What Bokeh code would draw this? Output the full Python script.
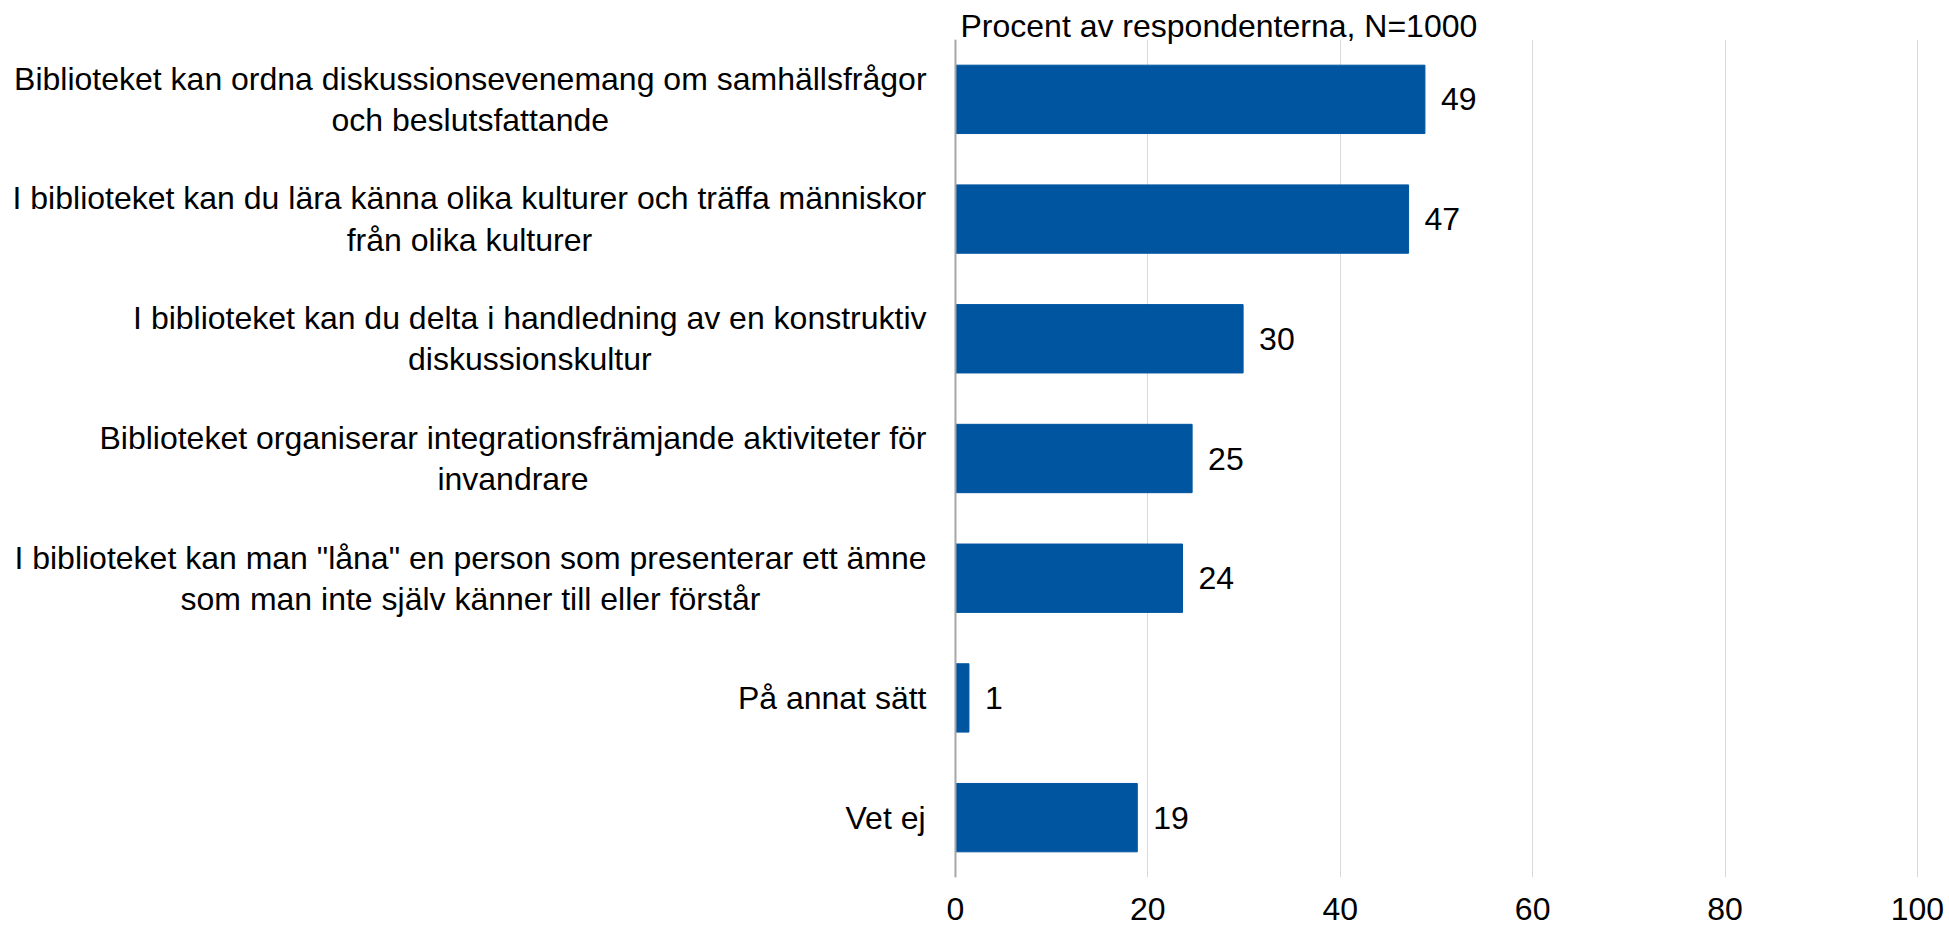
from bokeh.plotting import figure
from bokeh.models import (ColumnDataSource, FactorRange, Range1d, FixedTicker, Span)
from bokeh.core.properties import value
from bokeh.embed import file_html
from bokeh.resources import INLINE

# ---------------- data ----------------
categories = [
    "Biblioteket kan ordna diskussionsevenemang om samhällsfrågor\noch beslutsfattande",
    "I biblioteket kan du lära känna olika kulturer och träffa människor\nfrån olika kulturer",
    "I biblioteket kan du delta i handledning av en konstruktiv\ndiskussionskultur",
    "Biblioteket organiserar integrationsfrämjande aktiviteter för\ninvandrare",
    "I biblioteket kan man \"låna\" en person som presenterar ett ämne\nsom man inte själv känner till eller förstår",
    "På annat sätt",
    "Vet ej",
]
values = [48.8, 47.1, 29.9, 24.6, 23.6, 1.4, 18.9]
value_labels = ["49", "47", "30", "25", "24", "1", "19"]
x_ticks = [0, 20, 40, 60, 80, 100]
title_text = "Procent av respondenterna, N=1000"

# ---------------- styling ----------------
FONT = "Liberation Sans"
LABEL_SIZE = 32
TICK_SIZE = 32
BAR_COLOR = "#0055A0"

# Arial / Liberation Sans advance widths (per 1000 em) for estimating block widths
_W = {' ': 278, '"': 355, 'B': 667, 'I': 278, 'P': 667, 'V': 667, 'N': 722,
      'a': 556, 'b': 556, 'c': 500, 'd': 556, 'e': 556, 'f': 278, 'g': 556,
      'h': 556, 'i': 222, 'j': 222, 'k': 500, 'l': 222, 'm': 833, 'n': 556,
      'o': 556, 'p': 556, 'q': 556, 'r': 333, 's': 500, 't': 278, 'u': 556,
      'v': 500, 'w': 722, 'x': 500, 'y': 500, 'z': 500, 'å': 556, 'ä': 556,
      'ö': 556}


def block_width(txt, size):
    return max(sum(_W.get(ch, 556) for ch in line) for line in txt.split("\n")) * size / 1000.0


GAP = 29
cat_offsets = [-(GAP + block_width(c, LABEL_SIZE) / 2.0) for c in categories]

source = ColumnDataSource(dict(cat=categories, val=values, lab=value_labels,
                               zero=[0] * len(values), off=cat_offsets))

p = figure(width=1949, height=930,
           y_range=FactorRange(factors=list(reversed(categories)), range_padding=0),
           x_range=Range1d(-99.27, 103.33),
           output_backend="svg", toolbar_location=None,
           y_axis_location=None, min_border_left=0, min_border_right=0,
           min_border_top=39, min_border_bottom=53)
p.outline_line_color = None
p.background_fill_color = "white"
p.border_fill_color = "white"

# title
p.title.text = title_text
p.title.align = "left"
p.title.offset = 960
p.title.standoff = -8
p.title.text_font = FONT
p.title.text_font_size = f"{LABEL_SIZE}px"
p.title.text_font_style = "normal"
p.title.text_color = "black"

# grid
p.xgrid.ticker = FixedTicker(ticks=x_ticks)
p.xgrid.grid_line_color = "#d9d9d9"
p.xgrid.grid_line_width = 1
p.ygrid.grid_line_color = None

# bottom axis
ax = p.xaxis[0]
ax.ticker = FixedTicker(ticks=x_ticks)
ax.axis_line_color = None
ax.major_tick_line_color = None
ax.minor_tick_line_color = None
ax.major_tick_out = 0
ax.major_tick_in = 0
ax.major_label_standoff = 20
ax.major_label_text_line_height = 0.75
ax.major_label_text_font = FONT
ax.major_label_text_font_size = f"{TICK_SIZE}px"
ax.major_label_text_color = "black"

# bars
p.hbar(y="cat", left="zero", right="val", height=0.571, source=source,
       fill_color=BAR_COLOR, line_color=BAR_COLOR, line_width=1)

# vertical axis line at 0
p.add_layout(Span(location=0, dimension="height", line_color="#a6a6a6", line_width=2))

# value labels
p.text(x="val", y="cat", text="lab", source=source, x_offset=16,
       text_align="left", text_baseline="middle",
       text_font=value(FONT), text_font_size=f"{LABEL_SIZE}px", text_color="black")

# category labels (lines centred within a right-aligned block)
p.text(x="zero", y="cat", text="cat", source=source, x_offset="off",
       text_align="center", text_baseline="middle", text_line_height=1.15,
       text_font=value(FONT), text_font_size=f"{LABEL_SIZE}px", text_color="black")

open("out.html", "w").write(file_html(p, INLINE))
